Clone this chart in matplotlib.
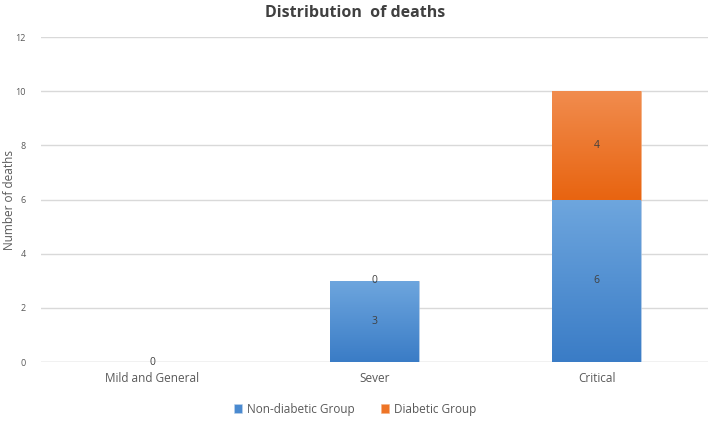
import matplotlib
matplotlib.use("Agg")
import matplotlib.pyplot as plt
import numpy as np
from matplotlib.colors import LinearSegmentedColormap

categories = ["Mild and General", "Sever", "Critical"]
non_diabetic = [0, 3, 6]
diabetic = [0, 0, 4]
series_names = ["Non-diabetic Group", "Diabetic Group"]
yticks = [0, 2, 4, 6, 8, 10, 12]

plt.rcParams['font.family'] = ['Open Sans', 'DejaVu Sans']

fig = plt.figure(figsize=(7.14, 4.21), dpi=100)
ax = fig.add_axes([0.0574, 0.140, 0.9342, 0.772])

x = np.arange(len(categories))
w = 0.40
b1 = ax.bar(x, non_diabetic, w, color="#4A8AD0", label=series_names[0], zorder=2,
            edgecolor="#BFD4EA", linewidth=0.4)
b2 = ax.bar(x, diabetic, w, bottom=non_diabetic, color="#EE7426", label=series_names[1], zorder=2,
            edgecolor="#F4B183", linewidth=0.4)

blue_cmap = LinearSegmentedColormap.from_list("b", ["#3A7CC6", "#6EA6DE"])
orange_cmap = LinearSegmentedColormap.from_list("o", ["#E86410", "#F18C4E"])
grad = np.linspace(0, 1, 256).reshape(-1, 1)
for bars, cmap in ((b1, blue_cmap), (b2, orange_cmap)):
    for p in bars:
        h = p.get_height()
        if h <= 0:
            continue
        x0, y0 = p.get_x(), p.get_y()
        im = ax.imshow(grad, cmap=cmap, origin="lower", aspect="auto",
                       extent=(x0, x0 + p.get_width(), y0, y0 + h), zorder=2.5)
        im.set_clip_path(p)

# data labels
for i in range(len(categories)):
    nd, d = non_diabetic[i], diabetic[i]
    if nd == 0 and d == 0:
        ax.text(x[i], 0, "0", ha="center", va="center", fontsize=7.5, color="#404040", zorder=4)
        continue
    ax.text(x[i], nd / 2, str(nd), ha="center", va="center", fontsize=7.5, color="#404040", zorder=4)
    ypos = nd + d / 2 if d > 0 else nd
    ax.text(x[i], ypos, str(d), ha="center", va="center", fontsize=7.5, color="#404040", zorder=4)

ax.set_xlim(-0.5, len(categories) - 0.5)
ax.set_ylim(0, 12)
ax.set_yticks(yticks)
ax.set_xticks(x)
ax.set_xticklabels(categories, fontsize=8.5, color="#595959")
ax.tick_params(axis='y', labelsize=6.5, colors="#595959", length=0, pad=11)
ax.tick_params(axis='x', length=0, pad=7)
ax.grid(axis='y', color="#D9D9D9", linewidth=1, zorder=0)
ax.set_axisbelow(True)
for s in ax.spines.values():
    s.set_visible(False)
ax.axhline(0, color="#D9D9D9", linewidth=1, zorder=1)

ax.set_ylabel("Number of deaths", fontsize=8.5, color="#595959")
ax.yaxis.set_label_coords(-0.038, 0.5)
fig.text(0.497, 0.968, "Distribution  of deaths", ha="center", va="center",
         fontsize=11.5, fontweight="bold", color="#404040")

leg = fig.legend(handles=[b1, b2], labels=series_names, loc="center",
                 bbox_to_anchor=(0.497, 0.028), ncol=2, frameon=False, fontsize=8.5,
                 handlelength=0.7, handleheight=0.7, handletextpad=0.4, columnspacing=2.2)
for t in leg.get_texts():
    t.set_color("#595959")

fig.savefig("out.png", dpi=100)
